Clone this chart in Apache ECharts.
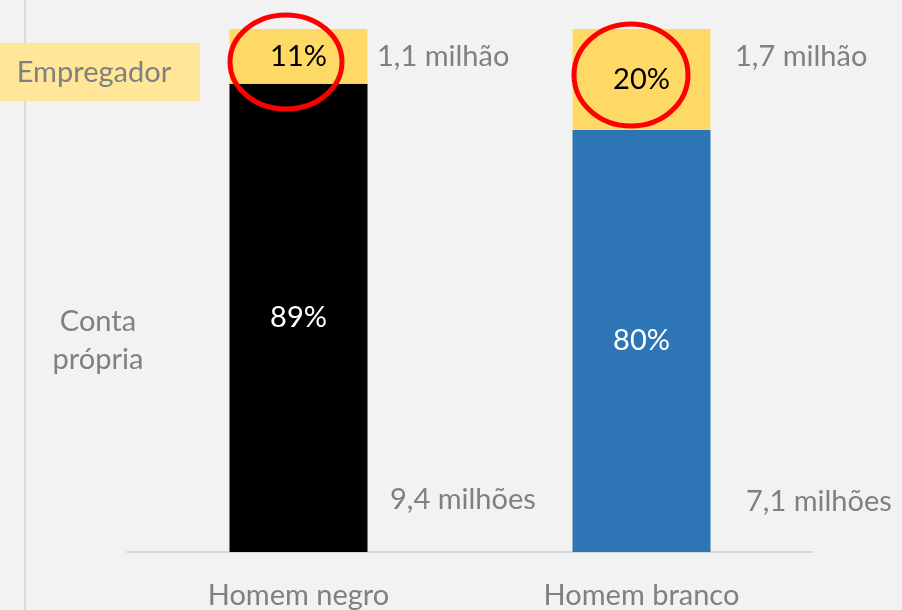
<!DOCTYPE html>
<html>
<head>
<meta charset="utf-8">
<script src="https://cdn.jsdelivr.net/npm/echarts@6/dist/echarts.min.js"></script>
<style>
  html, body { margin: 0; padding: 0; background: #f2f2f2; }
  #chart { width: 902px; height: 610px; }
</style>
</head>
<body>
<div id="chart"></div>
<script>
// categorias e valores (milhões de pessoas)
var categorias = ['Homem negro', 'Homem branco'];
var contaPropria = [9.4, 7.1];
var empregador = [1.1, 1.7];
var rotulosConta = ['89%', '80%'];
var rotulosEmpreg = ['11%', '20%'];
var totaisConta = ['9,4 milhões', '7,1 milhões'];
var totaisEmpreg = ['1,1 milhão', '1,7 milhão'];

var fonte = 'Lato, "Open Sans", sans-serif';
var cinza = '#808080';
var tam = 29;

var share = function (a, b) {
    return a.map(function (v, i) { return v / (v + b[i]) * 100; });
};

var myChart = echarts.init(document.getElementById('chart'));
var option = {
    backgroundColor: '#f2f2f2',
    animation: false,
    grid: { left: 127, right: 89, top: 29, bottom: 57 },
    xAxis: {
        type: 'category',
        data: categorias,
        axisLine: { lineStyle: { color: '#d9d9d9', width: 2 } },
        axisTick: { show: false },
        axisLabel: { color: cinza, fontSize: tam, fontFamily: fonte, margin: 29 }
    },
    yAxis: {
        type: 'value', min: 0, max: 100, show: false,
        splitLine: { show: false }
    },
    series: [
        {
            name: 'Conta própria', type: 'bar', stack: 'total', barWidth: 138,
            data: share(contaPropria, empregador).map(function (v, i) {
                return { value: v, itemStyle: { color: i === 0 ? '#000000' : '#2e75b6' } };
            }),
            label: {
                show: true, position: 'inside', fontSize: tam, fontFamily: fonte,
                color: '#ffffff',
                formatter: function (p) { return rotulosConta[p.dataIndex]; }
            }
        },
        {
            name: 'Empregador', type: 'bar', stack: 'total', barWidth: 138,
            itemStyle: { color: '#ffd966' },
            data: share(empregador, contaPropria),
            label: {
                show: true, position: 'inside', fontSize: tam, fontFamily: fonte,
                color: '#000000',
                formatter: function (p) { return rotulosEmpreg[p.dataIndex]; }
            }
        }
    ],
    graphic: [
        { type: 'line', shape: { x1: 25, y1: 0, x2: 25, y2: 610 },
          style: { stroke: '#d9d9d9', lineWidth: 2 } },
        { type: 'rect', shape: { x: 0, y: 43, width: 200, height: 58 },
          style: { fill: '#ffe699' } },
        { type: 'text', x: 94, y: 73,
          style: { text: 'Empregador', fill: cinza, font: tam + 'px ' + fonte, align: 'center', verticalAlign: 'middle' } },
        { type: 'text', x: 98, y: 341,
          style: { text: 'Conta\nprópria', fill: cinza, font: tam + 'px ' + fonte, align: 'center', verticalAlign: 'middle', lineHeight: 38 } },
        { type: 'text', x: 377, y: 57,
          style: { text: totaisEmpreg[0], fill: cinza, font: tam + 'px ' + fonte, verticalAlign: 'middle' } },
        { type: 'text', x: 735, y: 57,
          style: { text: totaisEmpreg[1], fill: cinza, font: tam + 'px ' + fonte, verticalAlign: 'middle' } },
        { type: 'text', x: 390, y: 500,
          style: { text: totaisConta[0], fill: cinza, font: tam + 'px ' + fonte, verticalAlign: 'middle' } },
        { type: 'text', x: 746, y: 502,
          style: { text: totaisConta[1], fill: cinza, font: tam + 'px ' + fonte, verticalAlign: 'middle' } },
        { type: 'ellipse', z: 100, shape: { cx: 286, cy: 62, rx: 56, ry: 47 },
          style: { fill: 'none', stroke: '#ff0000', lineWidth: 5 } },
        { type: 'ellipse', z: 100, shape: { cx: 631, cy: 75, rx: 57, ry: 51 },
          style: { fill: 'none', stroke: '#ff0000', lineWidth: 5 } }
    ]
};
myChart.setOption(option);
</script>
</body>
</html>
